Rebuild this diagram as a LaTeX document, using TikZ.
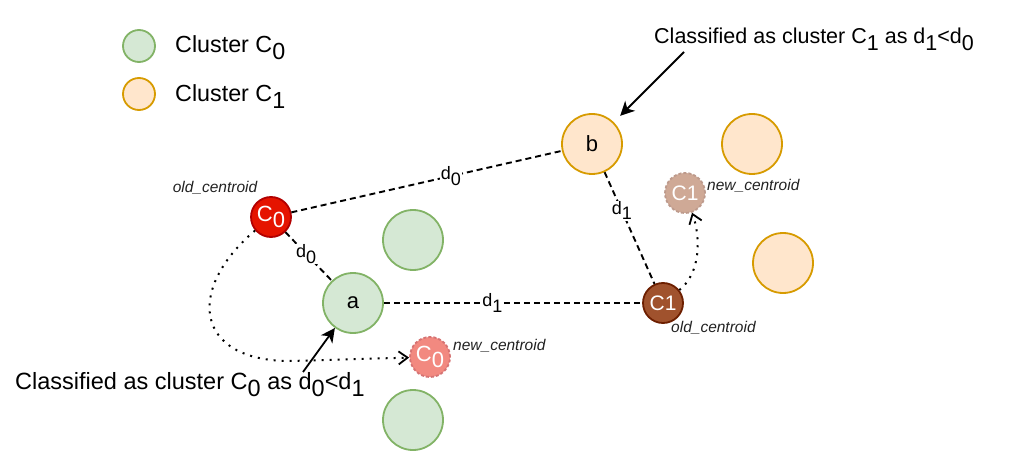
\documentclass[tikz,border=0pt]{standalone}
\usepackage{fontspec}
\setmainfont{Liberation Sans}
\usetikzlibrary{arrows.meta}
\definecolor{gfill}{HTML}{D5E8D4}
\definecolor{gline}{HTML}{82B366}
\definecolor{ofill}{HTML}{FFE6CC}
\definecolor{oline}{HTML}{D79B00}
\definecolor{rfill}{HTML}{E51400}
\definecolor{rline}{HTML}{B20000}
\definecolor{sfill}{HTML}{A0522D}
\definecolor{sline}{HTML}{6D1F00}
\definecolor{tagcol}{HTML}{222222}
\newcommand\lsub[1]{\raisebox{-0.3em}{#1}}
\newcommand\fs[1]{\fontsize{#1}{#1}\selectfont}
\tikzset{
  disc/.style={circle, inner sep=0pt, line width=1.8pt},
  grn/.style={disc, minimum size=60pt, fill=gfill, draw=gline, font=\fs{22}},
  org/.style={disc, minimum size=60pt, fill=ofill, draw=oline, font=\fs{22}},
  lgrn/.style={disc, minimum size=32pt, fill=gfill, draw=gline},
  lorg/.style={disc, minimum size=32pt, fill=ofill, draw=oline},
  cent/.style={disc, minimum size=40pt, text=white, font=\fs{21}},
  newc/.style={cent, dash pattern=on 3pt off 2pt},
  dist/.style={line width=1.9pt, dash pattern=on 6pt off 4pt},
  dlab/.style={fill=white, inner sep=1pt, font=\fs{18}},
  tag/.style={inner sep=0pt, text=tagcol, font=\itshape\fs{15.5}},
  pointer/.style={line width=1.8pt, -{Stealth[length=14pt,width=14pt,inset=4pt]}},
  move/.style={line width=2pt, dash pattern=on 2pt off 6pt,
    -{Straight Barb[length=9pt,width=13pt,line width=1.8pt]}},
  caption/.style={inner sep=0pt, anchor=base west}
}
\begin{document}
\begin{tikzpicture}[x=1pt,y=-1pt]
\useasboundingbox (0,0) rectangle (1024,454);
\fill[white] (0,0) rectangle (1024,454);
% legend
\node[lgrn] (lg0) at (139,46) {};
\node[lorg] (lg1) at (139,94) {};
\node[caption, font=\fs{23.3}] (lt0) at (175,53) {Cluster C\lsub{0}};
\node[caption, font=\fs{23.3}] (lt1) at (175,102) {Cluster C\lsub{1}};
% points
\node[org] (b) at (592,144) {b};
\node[org] (o2) at (752,144) {};
\node[org] (o3) at (783,263) {};
\node[grn] (g1) at (413,240) {};
\node[grn] (a) at (353,303) {a};
\node[grn] (g2) at (413,420) {};
% centroids
\node[cent, fill=rfill, draw=rline, font=\fs{22}] (c0) at (271,217) {C\lsub{0}};
\node[newc, fill=rfill!50, draw=rline!55, font=\fs{22}] (n0) at (430,357) {C\lsub{0}};
\node[cent, fill=sfill, draw=sline] (c1) at (663,303) {C1};
\node[newc, fill=sfill!50, draw=sline!45] (n1) at (685,193) {C1};
% tags
\node[tag] (tc0) at (215,188) {old\_centroid};
\node[tag, anchor=west] (tn0) at (453,346) {new\_centroid};
\node[tag, anchor=west] (tn1) at (707,186) {new\_centroid};
\node[tag, anchor=west] (tc1) at (671,328) {old\_centroid};
% distances
\draw[dist] (c0) -- node[dlab, pos=0.59] {d\lsub{0}} (b);
\draw[dist] (c0) -- node[dlab, pos=0.45] {d\lsub{0}} (a);
\draw[dist] (a) -- node[dlab, pos=0.42] {d\lsub{1}} (c1);
\draw[dist] (b) -- node[dlab, pos=0.345] {d\lsub{1}} (c1);
% centroid moves
\draw[move] (c0) .. controls (185,290) and (195,361) .. (290,361) -- (n0);
\draw[move] (c1) .. controls (702,272) and (700,235) .. (n1);
% captions
\node[caption, font=\fs{21.5}] (top) at (654,44) {Classified as cluster C\lsub{1} as d\lsub{1}<d\lsub{0}};
\node[caption, font=\fs{23.5}] (bot) at (15,389) {Classified as cluster C\lsub{0} as d\lsub{0}<d\lsub{1}};
\coordinate (s1) at (684,52);
\coordinate (s2) at (303,372);
\draw[pointer, shorten >=9pt] (s1) -- (b);
\draw[pointer] (s2) -- (a);
\end{tikzpicture}
\end{document}
